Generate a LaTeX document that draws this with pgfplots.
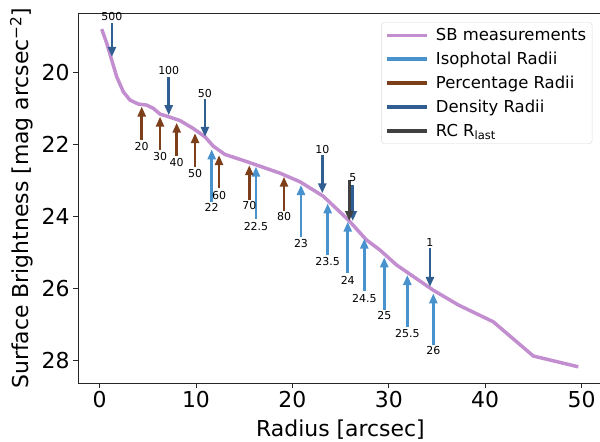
\documentclass[border=0pt]{standalone}
\usepackage{fontspec}
\setmainfont{DejaVu Sans}
\usepackage{pgfplots}
\usepackage{pgfplotstable}
\pgfplotsset{compat=1.18}
\usetikzlibrary{arrows.meta}
\definecolor{sbcol}{RGB}{194,142,208}
\definecolor{isocol}{RGB}{72,146,206}
\definecolor{pctcol}{RGB}{125,62,26}
\definecolor{dencol}{RGB}{48,94,145}
\definecolor{rccol}{RGB}{64,64,64}

\pgfplotstableread{
x y
0.22 18.80
0.74 19.19
1.26 19.66
1.77 20.12
2.46 20.54
3.15 20.77
4.01 20.88
4.89 20.91
5.57 21.00
6.27 21.16
7.13 21.23
8.34 21.34
9.72 21.56
10.93 21.79
11.79 22.05
13.0 22.28
15.26 22.48
18.71 22.80
20.79 23.04
23.2 23.44
25.8 24.10
27.7 24.66
29.1 24.94
30.8 25.35
34.6 26.05
37.2 26.46
40.84 26.93
44.99 27.88
49.66 28.18
}\sbdata

\pgfplotstableread{
x y u v
1.28 18.64 0 0.93
7.17 20.14 0 1.05
10.93 20.75 0 1.04
23.1 22.30 0 1.06
26.26 23.13 0 1.00
34.27 24.89 0 1.07
}\dendata
\pgfplotstableread{
x y l
1.28 18.45 500
7.17 19.96 100
10.93 20.58 50
23.1 22.13 10
26.26 22.93 5
34.27 24.72 1
}\denlab

\pgfplotstableread{
x y u v
11.63 23.59 0 -1.45
16.22 24.08 0 -1.46
20.89 24.57 0 -1.44
23.66 25.07 0 -1.43
25.74 25.58 0 -1.43
27.46 26.08 0 -1.46
29.53 26.60 0 -1.46
31.92 27.07 0 -1.44
34.62 27.58 0 -1.44
}\isodata
\pgfplotstableread{
x y l
11.63 23.75 22
16.22 24.27 22.5
20.89 24.75 23
23.66 25.26 23.5
25.74 25.77 24
27.46 26.28 24.5
29.53 26.76 25
31.92 27.25 25.5
34.62 27.74 26
}\isolab

\pgfplotstableread{
x y u v
4.37 21.88 0 -0.93
6.27 22.16 0 -0.93
8.00 22.33 0 -0.93
9.90 22.62 0 -0.93
12.39 23.22 0 -0.92
15.53 23.55 0 -0.97
19.13 23.84 0 -0.94
}\pctdata
\pgfplotstableread{
x y l
4.37 22.07 20
6.27 22.34 30
8.00 22.51 40
9.90 22.80 50
12.39 23.41 60
15.53 23.71 70
19.13 24.01 80
}\pctlab

\pgfplotstableread{
x y u v
25.9 23.00 0 1.13
}\rcdata

\begin{document}
\begin{tikzpicture}
\begin{axis}[
  at={(0,0)}, anchor=south west,
  scale only axis, width=524.8bp, height=369.7bp,
  xmin=-2.24, xmax=52.2, ymin=18.36, ymax=28.63, y dir=reverse,
  xtick={0,10,20,30,40,50}, ytick={20,22,24,26,28},
  tick align=outside, xtick pos=bottom, ytick pos=left,
  major tick length=5bp,
  tick style={line width=0.9bp, black!85},
  axis line style={line width=0.9bp, black!85},
  ticklabel style={font=\fontsize{22}{26}\selectfont},
  /pgf/number format/assume math mode=true,
  xlabel={Radius [arcsec]},
  ylabel={Surface Brightness [mag arcsec\textsuperscript{−2}]},
  label style={font=\fontsize{22}{26}\selectfont},
  xlabel style={at={(axis description cs:0.5,-0.127)}, anchor=center},
  ylabel style={at={(axis description cs:-0.1073,0.5)}, anchor=center},
  clip=false,
  legend style={at={(0.98,0.9757)}, anchor=north east,
    font=\fontsize{16.5}{19}\selectfont, draw=black!15, rounded corners=3bp,
    fill=white, fill opacity=0.8, text opacity=1, cells={anchor=west},
    inner xsep=4bp, inner ysep=4bp, row sep=6bp, column sep=5bp},
  legend image code/.code={\draw[#1, line width=3.5bp] (0bp,0bp) -- (40bp,0bp);},
  qarrow/.style={line width=2.6bp, -{Triangle[width=8bp,length=10bp]}},
  alab/.style={draw=none, mark=none, nodes near coords, point meta=explicit symbolic,
    nodes near coords style={anchor=center, font=\fontsize{11}{13}\selectfont, text=black, inner sep=0pt}},
]
\addplot[sbcol, line width=3.5bp, line join=round] table {\sbdata};
\addlegendentry{SB measurements}
\addlegendimage{isocol}
\addlegendentry{Isophotal Radii}
\addlegendimage{pctcol}
\addlegendentry{Percentage Radii}
\addlegendimage{dencol}
\addlegendentry{Density Radii}
\addlegendimage{rccol}
\addlegendentry{RC R\textsubscript{last}}

\addplot[forget plot, isocol, qarrow, quiver={u=\thisrow{u}, v=\thisrow{v}}] table {\isodata};
\addplot[forget plot, pctcol, qarrow, quiver={u=\thisrow{u}, v=\thisrow{v}}] table {\pctdata};
\addplot[forget plot, dencol, qarrow, quiver={u=\thisrow{u}, v=\thisrow{v}}] table {\dendata};
\addplot[forget plot, rccol, qarrow, quiver={u=\thisrow{u}, v=\thisrow{v}}] table {\rcdata};

\addplot[forget plot, alab] table[meta=l] {\isolab};
\addplot[forget plot, alab] table[meta=l] {\pctlab};
\addplot[forget plot, alab] table[meta=l] {\denlab};
\end{axis}
\pgfresetboundingbox
\useasboundingbox (-78bp,-59bp) rectangle (522bp,383bp);
\end{tikzpicture}
\end{document}
